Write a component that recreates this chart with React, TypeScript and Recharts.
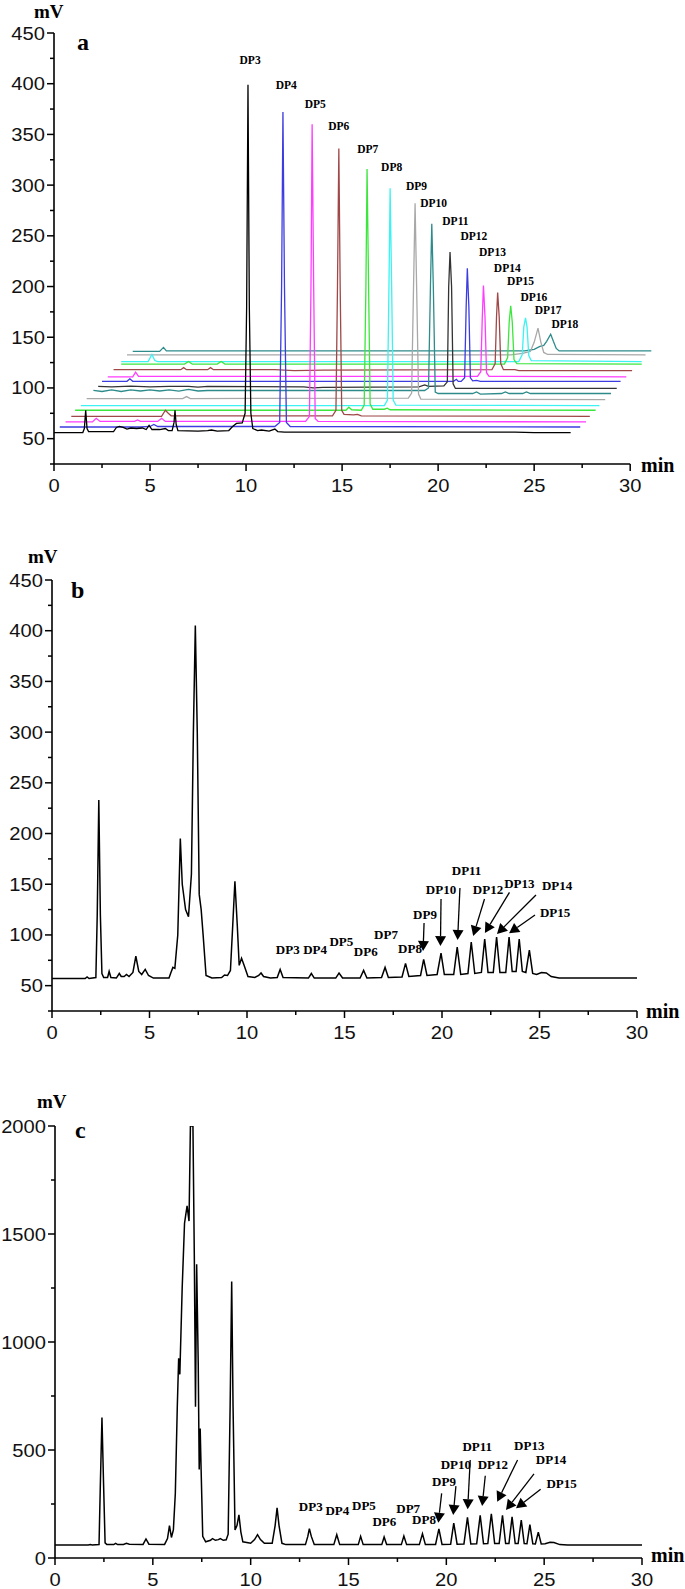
import React from 'react';
import { LineChart, Line, XAxis, YAxis, ReferenceLine, ReferenceDot } from 'recharts';

type P = [number, number];

// ---------- Panel a : individual DP standards (waterfall) ----------
const dp3a: P[] = [[0,56],[1.5,56],[1.58,60],[1.65,78],[1.72,60],[1.8,57],[3.1,57],[3.25,61],[3.4,62],[3.6,61],[3.8,59.5],[4.0,60.5],[4.3,60],[4.6,60.5],[4.8,59],[4.95,63],[5.1,59],[5.5,59],[5.8,60],[5.95,58],[6.15,58],[6.25,66],[6.3,78],[6.36,64],[6.45,58],[7.5,57.5],[8.0,58],[8.2,58.5],[8.5,57.5],[9.1,58],[9.3,62],[9.5,65],[9.8,65.5],[9.95,75],[10.03,180],[10.1,399],[10.17,180],[10.25,75],[10.35,60],[10.6,58],[10.8,58.5],[11.2,57.5],[11.5,59.5],[11.65,57],[12,56.5],[24,56.5],[25,56],[26.9,56]];
const dp4a: P[] = [[0.3,61.5],[4.5,61.5],[5.0,62],[5.2,64],[5.4,62],[11.5,62],[11.75,66],[11.85,200],[11.92,372],[12.0,200],[12.1,66],[12.3,62],[27.4,61.5]];
const dp5a: P[] = [[0.6,66.5],[2.0,66.5],[2.2,70],[2.4,67],[4.2,67],[4.35,68.5],[4.5,67],[5.4,67],[5.6,70],[5.8,67],[13.1,67],[13.3,72],[13.38,200],[13.44,360],[13.52,200],[13.6,70],[13.75,67],[27.7,66.5]];
const dp6a: P[] = [[0.9,72],[5.6,72],[5.8,78],[5.95,75],[6.1,72.5],[14.5,72.5],[14.68,78],[14.76,200],[14.83,336],[14.9,200],[14.98,78],[15.1,74],[15.6,73.5],[15.8,74],[16.0,72.5],[27.9,72]];
const dp7a: P[] = [[1.1,78],[15.2,78],[15.35,81],[15.5,78.5],[16.0,78],[16.15,83],[16.24,200],[16.3,316],[16.38,200],[16.46,84],[16.6,79],[17.2,79],[17.35,80],[17.5,78.5],[28.2,78]];
const dp8a: P[] = [[1.4,82.5],[17.2,82.5],[17.36,88],[17.44,200],[17.5,297],[17.58,200],[17.66,88],[17.8,83],[28.4,82.5]];
const dp9a: P[] = [[1.7,89.5],[6.7,89.5],[6.9,91.5],[7.1,89.5],[18.45,90],[18.62,95],[18.72,200],[18.8,282],[18.88,200],[18.98,94],[19.1,89],[28.7,88.5]];
const dp10a: P[] = [[2.05,97.5],[2.5,96.5],[3.0,98],[3.5,96.5],[4.0,98],[4.5,97],[5.0,98],[5.5,97],[6.0,98],[6.5,96.8],[7.0,98.5],[7.5,97],[8.0,97.5],[19.3,97.5],[19.5,100],[19.6,200],[19.67,262],[19.75,200],[19.85,96],[20.0,94.5],[21.8,94.5],[22.0,96],[22.2,94],[23.3,94.5],[23.5,96],[23.7,94.5],[24.4,94.5],[24.6,96],[24.8,94.5],[29.0,94.5]];
const dp11a: P[] = [[2.3,101.5],[3.0,101],[4.0,101.8],[5.0,101],[6.0,101.5],[7.0,101.5],[7.5,100.8],[8.0,101.5],[13,101],[13.5,100],[14.0,100.5],[19.0,101],[19.3,103],[19.5,101.5],[20.3,102],[20.48,106],[20.55,200],[20.62,234],[20.7,200],[20.78,104],[20.9,99.5],[29.3,99.5]];
const dp12a: P[] = [[2.5,106.5],[3.8,106.5],[3.95,109],[4.1,106.5],[20.8,106.5],[20.95,108.5],[21.05,106.5],[21.2,106.5],[21.38,110],[21.46,180],[21.52,218],[21.6,180],[21.68,110],[21.8,107],[22.0,107.5],[22.2,106.5],[29.5,106.5]];
const dp13a: P[] = [[2.8,111],[4.1,111],[4.25,115.5],[4.4,111.5],[22.05,111.5],[22.22,116],[22.3,170],[22.36,201],[22.44,170],[22.52,115],[22.65,111.5],[29.8,111]];
const dp14a: P[] = [[3.1,118],[6.6,118],[6.75,120],[6.9,118],[8.0,118],[8.15,120],[8.3,118],[11.5,118],[12.5,117],[14.0,117.5],[22.8,118],[22.97,124],[23.04,170],[23.1,194],[23.18,170],[23.26,124],[23.4,118],[24,118],[24.2,117],[30.1,117]];
const dp15a: P[] = [[3.5,123.5],[6.8,123.5],[7.0,126],[7.2,123.5],[8.5,123.5],[8.7,126],[8.9,123.5],[23.45,123.5],[23.62,130],[23.7,165],[23.78,181],[23.86,165],[23.95,128],[24.1,124],[30.6,123.5]];
const dp16a: P[] = [[3.5,126],[4.9,126],[5.1,133],[5.25,127],[5.4,126],[24.2,126],[24.38,133],[24.46,160],[24.55,169],[24.63,160],[24.72,132],[24.85,127],[30.6,126]];
const dp17a: P[] = [[3.8,132.7],[23.8,132.7],[24.4,134],[24.8,136],[25.0,145],[25.2,159],[25.35,145],[25.5,135],[25.7,133],[30.8,132.7]];
const dp18a: P[] = [[4.1,136],[5.5,136],[5.7,140],[5.85,136.5],[24.5,136.5],[25.0,138],[25.3,141],[25.5,142],[25.65,146],[25.86,153],[26.0,146],[26.15,139],[26.3,136.5],[31.1,136.5]];

const tracesA: P[][] = [dp3a, dp4a, dp5a, dp6a, dp7a, dp8a, dp9a, dp10a, dp11a, dp12a, dp13a, dp14a, dp15a, dp16a, dp17a, dp18a];
const colorsA = ['#000000', '#3c3ce0', '#ff3cff', '#a04848', '#3ce63c', '#3cf2f2', '#a8a8a8', '#2e8b8b', '#333333', '#3c3ce0', '#ff3cff', '#a04848', '#3ce63c', '#3cf2f2', '#a8a8a8', '#2e8b8b'];
const namesA = ['DP3','DP4','DP5','DP6','DP7','DP8','DP9','DP10','DP11','DP12','DP13','DP14','DP15','DP16','DP17','DP18'];
const labelTimesA = [10.21, 12.09, 13.6, 14.83, 16.34, 17.58, 18.87, 19.77, 20.9, 21.86, 22.83, 23.6, 24.29, 24.99, 25.73, 26.6];
const labelValsA = [423, 398.5, 380, 358, 336, 318, 299.4, 282.6, 264.6, 249.8, 234, 218.5, 205, 190, 177, 163.5];

// ---------- Panel b ----------
const traceB: P[] = [[0,57],[1.7,57],[1.8,58.5],[1.9,57],[2.25,58],[2.32,120],[2.4,233],[2.48,120],[2.56,62],[2.65,58],[2.85,58],[2.93,64],[3.02,58],[3.3,57.5],[3.45,62],[3.55,59],[3.7,59],[3.82,61],[3.95,59],[4.15,63],[4.3,79],[4.45,64],[4.6,61],[4.78,66],[4.95,60],[5.2,57.5],[6.0,57.5],[6.1,63],[6.2,68],[6.3,67],[6.45,100],[6.58,195],[6.68,150],[6.85,125],[7.0,118],[7.15,160],[7.25,300],[7.35,405],[7.45,300],[7.55,140],[7.65,125],[7.75,100],[7.9,60],[8.2,57.5],[8.7,58],[8.85,60.5],[9.0,60],[9.15,65],[9.27,110],[9.38,153],[9.5,110],[9.6,70],[9.72,77],[9.85,70],[10.05,59],[10.4,58],[10.6,60],[10.72,62.5],[10.85,59],[11.2,57.5],[11.55,58],[11.7,66],[11.85,58],[13.15,57.5],[13.3,62],[13.45,57.5],[14.55,57.5],[14.72,62.5],[14.9,57.5],[15.8,57.5],[15.98,65],[16.15,57.5],[16.9,58],[17.08,68],[17.25,58],[17.95,58.5],[18.13,72],[18.3,59],[18.9,60],[19.06,76],[19.23,60],[19.75,61],[19.95,82],[20.12,61],[20.6,61],[20.78,88],[20.96,61],[21.33,62],[21.5,93],[21.68,62],[22.02,63],[22.19,96],[22.36,63],[22.63,63],[22.8,98],[22.97,63],[23.27,63],[23.44,98],[23.6,64],[23.8,64],[23.96,96],[24.12,64],[24.3,63],[24.48,85],[24.65,62],[24.85,61],[25.1,63],[25.35,62.5],[25.6,59],[26,57.5],[30,57.5]];
const namesBC = ['DP3','DP4','DP5','DP6','DP7','DP8','DP9','DP10','DP11','DP12','DP13','DP14','DP15'];
const labelTimesB = [12.09, 13.49, 14.84, 16.09, 17.13, 18.36, 19.13, 19.95, 21.26, 22.36, 23.97, 25.9, 25.8];
const labelValsB = [85.8, 86.1, 94, 83.2, 100.9, 87.1, 120.6, 145.3, 164, 145.3, 151.2, 149.2, 122.6];
// arrows DP9..DP15: tail (t, v) -> tip (t, v)
const arrowTailB: P[] = [[19.08,111.8],[19.95,135.4],[20.92,146.3],[22.18,135.4],[23.46,141.9],[24.82,139.4],[24.77,119.7]];
const arrowTipB: P[] = [[19.03,84.2],[19.92,89],[20.8,95],[21.6,99],[22.2,101.9],[22.82,101],[23.44,101.6]];

// ---------- Panel c ----------
const traceC: P[] = [[0,60],[1.7,60],[1.8,62],[1.9,60],[2.25,62],[2.32,350],[2.4,650],[2.48,350],[2.56,70],[2.65,62],[3.0,62],[3.1,68],[3.2,62],[3.5,63],[3.65,68],[3.8,64],[4.5,63],[4.65,88],[4.8,64],[5.6,63],[5.75,90],[5.85,150],[5.95,95],[6.05,130],[6.15,300],[6.25,700],[6.32,925],[6.38,850],[6.5,1250],[6.62,1550],[6.75,1630],[6.85,1560],[6.92,2000],[7.05,2000],[7.12,1400],[7.18,700],[7.24,1360],[7.32,900],[7.37,410],[7.42,600],[7.47,400],[7.55,100],[7.7,75],[7.95,82],[8.05,90],[8.2,82],[8.35,85],[8.45,90],[8.6,82],[8.75,84],[8.85,110],[8.95,700],[9.03,1280],[9.1,700],[9.2,130],[9.3,150],[9.4,200],[9.5,120],[9.6,75],[10.0,68],[10.2,85],[10.35,108],[10.5,85],[10.7,68],[11.1,68],[11.25,150],[11.35,232],[11.45,150],[11.6,68],[11.8,62],[12.8,62],[12.92,100],[13.0,136],[13.1,100],[13.25,62],[14.25,62],[14.4,108],[14.55,62],[15.5,62],[15.62,100],[15.75,62],[16.7,62],[16.82,97],[16.95,62],[17.7,62],[17.83,102],[17.97,62],[18.62,62],[18.78,112],[18.93,62],[19.45,63],[19.62,135],[19.78,63],[20.22,64],[20.38,162],[20.55,64],[20.9,65],[21.08,188],[21.25,65],[21.55,66],[21.73,198],[21.9,66],[22.12,67],[22.3,205],[22.47,67],[22.7,67],[22.87,198],[23.03,67],[23.2,67],[23.36,190],[23.52,67],[23.67,67],[23.83,176],[23.98,67],[24.12,66],[24.27,155],[24.42,66],[24.55,65],[24.7,120],[24.85,65],[25.05,66],[25.3,73],[25.5,72],[25.8,62],[26.2,60],[30,60]];
const labelTimesC = [13.07, 14.43, 15.79, 16.83, 18.05, 18.86, 19.88, 20.49, 21.58, 22.38, 24.24, 25.35, 25.89];
const labelValsC = [240.7, 222, 245, 171, 230, 176, 352, 432, 515, 432, 520, 454, 343];
const arrowTailC: P[] = [[19.76,299.5],[20.49,333],[21.22,453.7],[21.99,381],[23.64,453.7],[24.48,389],[24.82,318]];
const arrowTipC: P[] = [[19.59,163.4],[20.35,199],[21.09,225.5],[21.83,240.7],[22.6,260.6],[23.05,222],[23.56,230]];

// ---------- axes ticks ----------
const xTicks = [0, 2.5, 5, 7.5, 10, 12.5, 15, 17.5, 20, 22.5, 25, 27.5, 30];
const yTicksAB = [25, 50, 75, 100, 125, 150, 175, 200, 225, 250, 275, 300, 325, 350, 375, 400, 425, 450];
const yTicksC = [0, 250, 500, 750, 1000, 1250, 1500, 1750, 2000];

const SANS = "'Liberation Sans', Arial, Helvetica, sans-serif";
const SERIF = "'Liberation Serif', 'Times New Roman', serif";

const toObj = (arr: P[]) => arr.map(([t, v]) => ({ t, v }));

const isMajor = (v: number, step: number) => Math.abs(v / step - Math.round(v / step)) < 1e-6;

const makeYTick = (step: number) => (props: any) => {
  const { x, y, payload } = props;
  const v = payload.value;
  const major = isMajor(v, step);
  return (
    <g>
      <line x1={x} y1={y} x2={x - (major ? 7 : 4)} y2={y} stroke="#000" strokeWidth={1.5} />
      {major && (
        <text transform={`translate(${x - 9},${y + 6.5}) scale(1.12,1)`} textAnchor="end" fontSize={18} fontFamily={SANS} fill="#111">
          {v}
        </text>
      )}
    </g>
  );
};

const xTick = (props: any) => {
  const { x, y, payload } = props;
  const v = payload.value;
  const major = isMajor(v, 5);
  return (
    <g>
      <line x1={x} y1={y} x2={x} y2={y + (major ? 7 : 4)} stroke="#000" strokeWidth={1.5} />
      {major && (
        <text transform={`translate(${x},${y + 28}) scale(1.12,1)`} textAnchor="middle" fontSize={18} fontFamily={SANS} fill="#111">
          {v}
        </text>
      )}
    </g>
  );
};

const labelShape = (text: string, size: number) => (p: any) => (
  <text x={p.cx} y={p.cy} textAnchor="middle" dominantBaseline="central" fontSize={size} fontWeight="bold" fontFamily={SERIF} fill="#000">
    {text}
  </text>
);

const arrowShape = (p: any) => {
  const { x1, y1, x2, y2 } = p;
  const dx = x2 - x1;
  const dy = y2 - y1;
  const len = Math.hypot(dx, dy) || 1;
  const ux = dx / len;
  const uy = dy / len;
  const hl = 10;
  const hw = 5.5;
  const bx = x2 - ux * hl;
  const by = y2 - uy * hl;
  return (
    <g>
      <line x1={x1} y1={y1} x2={bx} y2={by} stroke="#000" strokeWidth={1.3} />
      <polygon points={`${x2},${y2} ${bx - uy * hw},${by + ux * hw} ${bx + uy * hw},${by - ux * hw}`} fill="#000" />
    </g>
  );
};

const textStyle = (left: number, top: number, size: number): React.CSSProperties => ({
  position: 'absolute',
  left,
  top,
  fontFamily: SERIF,
  fontWeight: 'bold',
  fontSize: size,
  lineHeight: 1,
  color: '#000',
  whiteSpace: 'nowrap',
});

export default function App() {
  const axisLineStyle = { stroke: '#000', strokeWidth: 1.6 };
  return (
    <div style={{ position: 'absolute', left: 0, top: 0, width: 685, height: 1589, background: '#fff', overflow: 'hidden' }}>
      {/* Panel a */}
      <div style={{ position: 'absolute', left: 0, top: 0 }}>
        <LineChart width={685} height={504} margin={{ top: 33, right: 26, bottom: 10, left: 0 }}>
          <XAxis type="number" dataKey="t" domain={[0, 31.5]} ticks={xTicks} interval={0} allowDataOverflow axisLine={false} tickLine={false} tickSize={0} tickMargin={0} tick={xTick} height={30} />
          <YAxis type="number" domain={[25, 450]} ticks={yTicksAB} interval={0} allowDataOverflow width={54} axisLine={axisLineStyle} tickLine={false} tickSize={0} tickMargin={0} tick={makeYTick(50)} />
          <ReferenceLine segment={[{ x: 0, y: 25 }, { x: 30, y: 25 }]} stroke="#000" strokeWidth={1.6} ifOverflow="visible" />
          {tracesA.map((_, i) => {
            const k = tracesA.length - 1 - i;
            return (
              <Line key={namesA[k]} data={toObj(tracesA[k])} dataKey="v" type="linear" stroke={colorsA[k]} strokeWidth={1.3} dot={false} activeDot={false} isAnimationActive={false} />
            );
          })}
          {namesA.map((n, i) => (
            <ReferenceDot key={'la' + n} x={labelTimesA[i]} y={labelValsA[i]} r={0} ifOverflow="visible" shape={labelShape(n, 11.5)} />
          ))}
        </LineChart>
      </div>
      <div style={textStyle(34, 2, 19)}>mV</div>
      <div style={textStyle(77, 30, 24)}>a</div>
      <div style={textStyle(641, 455, 20)}>min</div>

      {/* Panel b */}
      <div style={{ position: 'absolute', left: 0, top: 540 }}>
        <LineChart width={685} height={511} margin={{ top: 40, right: 48, bottom: 10, left: 0 }}>
          <XAxis type="number" dataKey="t" domain={[0, 30]} ticks={xTicks} interval={0} allowDataOverflow axisLine={axisLineStyle} tickLine={false} tickSize={0} tickMargin={0} tick={xTick} height={30} />
          <YAxis type="number" domain={[25, 450]} ticks={yTicksAB} interval={0} allowDataOverflow width={52} axisLine={axisLineStyle} tickLine={false} tickSize={0} tickMargin={0} tick={makeYTick(50)} />
          <Line data={toObj(traceB)} dataKey="v" type="linear" stroke="#000" strokeWidth={1.5} dot={false} activeDot={false} isAnimationActive={false} />
          {arrowTailB.map((tail, i) => (
            <ReferenceLine key={'ab' + i} segment={[{ x: tail[0], y: tail[1] }, { x: arrowTipB[i][0], y: arrowTipB[i][1] }]} ifOverflow="visible" shape={arrowShape} />
          ))}
          {namesBC.map((n, i) => (
            <ReferenceDot key={'lb' + n} x={labelTimesB[i]} y={labelValsB[i]} r={0} ifOverflow="visible" shape={labelShape(n, 13)} />
          ))}
        </LineChart>
      </div>
      <div style={textStyle(28, 547, 19)}>mV</div>
      <div style={textStyle(71, 578, 24)}>b</div>
      <div style={textStyle(646, 1001, 20)}>min</div>

      {/* Panel c */}
      <div style={{ position: 'absolute', left: 0, top: 1090 }}>
        <LineChart width={685} height={499} margin={{ top: 36, right: 43, bottom: 1, left: 0 }}>
          <XAxis type="number" dataKey="t" domain={[0, 30]} ticks={xTicks} interval={0} allowDataOverflow axisLine={axisLineStyle} tickLine={false} tickSize={0} tickMargin={0} tick={xTick} height={30} />
          <YAxis type="number" domain={[0, 2000]} ticks={yTicksC} interval={0} allowDataOverflow width={55} axisLine={axisLineStyle} tickLine={false} tickSize={0} tickMargin={0} tick={makeYTick(500)} />
          <Line data={toObj(traceC)} dataKey="v" type="linear" stroke="#000" strokeWidth={1.5} dot={false} activeDot={false} isAnimationActive={false} />
          {arrowTailC.map((tail, i) => (
            <ReferenceLine key={'ac' + i} segment={[{ x: tail[0], y: tail[1] }, { x: arrowTipC[i][0], y: arrowTipC[i][1] }]} ifOverflow="visible" shape={arrowShape} />
          ))}
          {namesBC.map((n, i) => (
            <ReferenceDot key={'lc' + n} x={labelTimesC[i]} y={labelValsC[i]} r={0} ifOverflow="visible" shape={labelShape(n, 13)} />
          ))}
        </LineChart>
      </div>
      <div style={textStyle(37, 1092, 19)}>mV</div>
      <div style={textStyle(75, 1118, 24)}>c</div>
      <div style={textStyle(651, 1545, 20)}>min</div>
    </div>
  );
}
